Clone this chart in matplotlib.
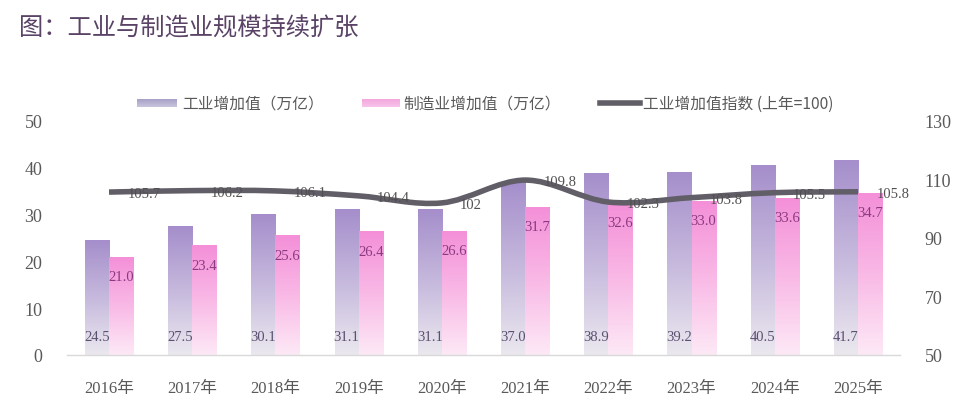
import numpy as np
import matplotlib
matplotlib.use("Agg")
import matplotlib.pyplot as plt
from matplotlib.path import Path
from matplotlib.patches import PathPatch
from matplotlib.lines import Line2D
from matplotlib.colors import LinearSegmentedColormap

years = ["2016年", "2017年", "2018年", "2019年", "2020年", "2021年", "2022年", "2023年", "2024年", "2025年"]
industry = [24.5, 27.5, 30.1, 31.1, 31.1, 37.0, 38.9, 39.2, 40.5, 41.7]
manufacturing = [21.0, 23.4, 25.6, 26.4, 26.6, 31.7, 32.6, 33.0, 33.6, 34.7]
index_vals = [105.7, 106.2, 106.1, 104.4, 102, 109.8, 102.3, 103.8, 105.5, 105.8]
index_labels = ["105.7", "106.2", "106.1", "104.4", "102", "109.8", "102.3", "103.8", "105.5", "105.8"]

SERIF = ["Liberation Serif", "Noto Sans CJK SC"]
CJK = ["Noto Sans CJK SC", "DejaVu Sans"]
plt.rcParams["font.family"] = SERIF

fig = plt.figure(figsize=(9.63, 4.10), dpi=100)
ax = fig.add_axes([67.4 / 963, 54 / 410, (899.6 - 67.4) / 963, (356 - 122) / 410])
ax2 = ax.twinx()

purple_cmap = LinearSegmentedColormap.from_list("p", ["#a58ecb", "#c6b9dd", "#ebe8ef"])
pink_cmap = LinearSegmentedColormap.from_list("k", ["#f48fd8", "#f9b9e6", "#fde9f6"])
grad = np.linspace(0, 1, 256).reshape(-1, 1)

x = np.arange(len(years))
w = 0.29
b1 = ax.bar(x - w / 2, industry, w, color="none", edgecolor="none", zorder=2)
b2 = ax.bar(x + w / 2, manufacturing, w, color="none", edgecolor="none", zorder=2)
for bars, cmap in ((b1, purple_cmap), (b2, pink_cmap)):
    for r in bars:
        x0, h = r.get_x(), r.get_height()
        im = ax.imshow(grad, extent=[x0, x0 + r.get_width(), 0, h], aspect="auto",
                       cmap=cmap, origin="upper", zorder=2, interpolation="bilinear")
        im.set_clip_path(r)

ax.set_xlim(-0.5, len(years) - 0.5)
ax.set_ylim(0, 50)
ax.set_yticks(range(0, 51, 10))
ax.set_xticks(x)
ax.set_xticklabels(years, fontsize=12, color="#595959")
ax.tick_params(axis="y", labelsize=13, labelcolor="#595959", length=0, pad=18)
ax.tick_params(axis="x", length=0, pad=18)
for s in ["top", "right", "left"]:
    ax.spines[s].set_visible(False)
ax.spines["bottom"].set_color("#d9d9d9")
ax.spines["bottom"].set_linewidth(1)

for i, v in enumerate(industry):
    ax.text(x[i] - w / 2, 4, f"{v:.1f}", ha="center", va="center", fontsize=10.5, color="#5a5070", zorder=5)
for i, v in enumerate(manufacturing):
    ax.text(x[i] + w / 2, v - 4.3, f"{v:.1f}", ha="center", va="center", fontsize=10.5, color="#8a3a80", zorder=5)

ax2.set_ylim(50, 130)
ax2.set_yticks(range(50, 131, 20))
ax2.tick_params(axis="y", labelsize=13, labelcolor="#595959", length=0, pad=18)
for s in ["top", "right", "left", "bottom"]:
    ax2.spines[s].set_visible(False)

# smooth line through the index points (cubic Bezier segments)
pts = np.column_stack([x, index_vals]).astype(float)
n = len(pts)
verts = [tuple(pts[0])]
codes = [Path.MOVETO]
t = 1 / 6
for i in range(n - 1):
    p0 = pts[i - 1] if i > 0 else pts[i]
    p1, p2 = pts[i], pts[i + 1]
    p3 = pts[i + 2] if i + 2 < n else pts[i + 1]
    c1 = p1 + (p2 - p0) * t
    c2 = p2 - (p3 - p1) * t
    verts += [tuple(c1), tuple(c2), tuple(p2)]
    codes += [Path.CURVE4] * 3
path = Path(verts, codes)
ax2.add_patch(PathPatch(path, facecolor="none", edgecolor="#625e68", lw=4, capstyle="butt", zorder=4))
ax2.set_zorder(ax.get_zorder() + 1)
ax2.patch.set_visible(False)

for i, v in enumerate(index_vals):
    ax2.text(x[i] + 0.22, v - 0.6, index_labels[i], ha="left", va="center", fontsize=10.5, color="#505050", zorder=6)

# title
fig.text(19 / 963, 1 - 29 / 410, "图：工业与制造业规模持续扩张", family=CJK, fontsize=17.5,
         color="#5a4366", ha="left", va="center")

# legend
ly = 1 - 104 / 410
def grad_patch(x0, x1, c_top, c_bot):
    cm = LinearSegmentedColormap.from_list("g", [c_top, c_bot])
    lax = fig.add_axes([x0 / 963, ly - 4 / 410, (x1 - x0) / 963, 8 / 410])
    lax.imshow(np.linspace(0, 1, 32).reshape(-1, 1), aspect="auto", cmap=cm)
    lax.axis("off")
grad_patch(137, 177, "#a8a0c8", "#c8c4dc")
grad_patch(362, 400, "#f4a6de", "#f8c4ea")
fig.add_artist(Line2D([600 / 963, 640 / 963], [ly, ly], color="#625e68", lw=4, transform=fig.transFigure))
fig.text(182 / 963, ly, "工业增加值（万亿）", family=CJK, fontsize=11.3, color="#595959", va="center")
fig.text(403 / 963, ly, "制造业增加值（万亿）", family=CJK, fontsize=11.3, color="#595959", va="center")
fig.text(643 / 963, ly, "工业增加值指数 (上年=100)", family=CJK, fontsize=11.3, color="#595959", va="center")

fig.savefig("out.png", dpi=100)
